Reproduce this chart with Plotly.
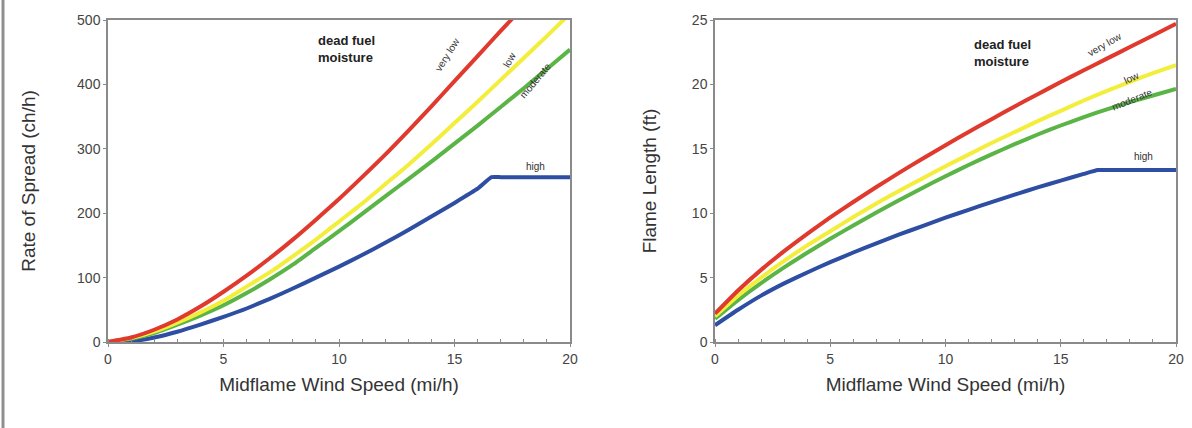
import plotly.graph_objects as go
from plotly.subplots import make_subplots

# ---- data ----
wind = list(range(0, 21))
wind_blue = [0, 1, 2, 3, 4, 5, 6, 7, 8, 9, 10, 11, 12, 13, 14, 15, 16, 16.6, 17, 18, 19, 20]

ros_very_low = [0, 7, 19, 35, 55, 78, 103, 130, 159, 190, 222, 256, 291, 328, 366, 405, 444, 483, 521, 558, 594]
ros_low = [0, 6, 16, 30, 46, 64, 86, 108, 133, 159, 187, 215, 245, 275, 307, 340, 373, 407, 441, 475, 510]
ros_moderate = [0, 5, 14, 27, 41, 57, 76, 97, 120, 146, 172, 199, 226, 253, 280, 308, 336, 365, 394, 424, 454]
ros_high = [0, 1, 7, 16, 27, 39, 52, 67, 83, 100, 117, 135, 154, 174, 195, 216, 238, 256, 256, 256, 256, 256]

fl_very_low = [2.2, 4.0, 5.6, 7.05, 8.4, 9.67, 10.87, 12.03, 13.15, 14.23, 15.28, 16.3, 17.3, 18.28, 19.24, 20.18, 21.1, 22.0, 22.9, 23.8, 24.7]
fl_low = [2.0, 3.6, 5.0, 6.3, 7.5, 8.6, 9.7, 10.75, 11.75, 12.7, 13.65, 14.55, 15.45, 16.3, 17.15, 17.95, 18.75, 19.5, 20.2, 20.87, 21.5]
fl_moderate = [1.8, 3.25, 4.57, 5.79, 6.93, 8.01, 9.05, 10.05, 11.02, 11.96, 12.87, 13.74, 14.57, 15.36, 16.11, 16.81, 17.46, 18.06, 18.62, 19.14, 19.64]
fl_high = [1.3, 2.5, 3.6, 4.55, 5.4, 6.2, 6.95, 7.65, 8.35, 9.0, 9.65, 10.26, 10.86, 11.44, 12.0, 12.53, 13.05, 13.35, 13.35, 13.35, 13.35, 13.35]

x_ticks = [0, 5, 10, 15, 20]
ros_ticks = [0, 100, 200, 300, 400, 500]
fl_ticks = [0, 5, 10, 15, 20, 25]

colors = {"very low": "#e0392d", "low": "#f3ee3c", "moderate": "#5bb446", "high": "#2d4ea2"}

# ---- figure ----
W, H = 1192, 428
ml, mr, mt, mb = 108, 16, 20, 86
pw = W - ml - mr
ph = H - mt - mb

fig = make_subplots(rows=1, cols=2, horizontal_spacing=0.0)

series_left = [("high", wind_blue, ros_high), ("moderate", wind, ros_moderate),
               ("low", wind, ros_low), ("very low", wind, ros_very_low)]
series_right = [("high", wind_blue, fl_high), ("moderate", wind, fl_moderate),
                ("low", wind, fl_low), ("very low", wind, fl_very_low)]


def line_style(name):
    if name == "high":
        return dict(color=colors[name], width=4, shape="spline", smoothing=0.35)
    return dict(color=colors[name], width=4, shape="spline", smoothing=0.5)


for name, xs, ys in series_left:
    fig.add_trace(go.Scatter(x=xs, y=ys, mode="lines", name=name, showlegend=False,
                             line=line_style(name)), row=1, col=1)
for name, xs, ys in series_right:
    fig.add_trace(go.Scatter(x=xs, y=ys, mode="lines", name=name, showlegend=False,
                             line=line_style(name)), row=1, col=2)

dl = [0, (570 - ml) / pw]
dr = [(715 - ml) / pw, 1.0]

axis_common = dict(showline=True, linecolor="#8a8a8a", linewidth=1.5, mirror=True,
                   showgrid=False, zeroline=False, automargin=False,
                   tickfont=dict(family="Arial, Liberation Sans, sans-serif", size=14, color="#444"),
                   ticks="outside", ticklen=3, tickcolor="#8a8a8a")
title_font = dict(family="Arial, Liberation Sans, sans-serif", size=19, color="#333")

fig.update_xaxes(**axis_common, range=[0, 20], tickvals=x_ticks,
                 minor=dict(dtick=1, ticks="inside", ticklen=3, tickcolor="#8a8a8a"),
                 title=dict(text="Midflame Wind Speed (mi/h)", font=title_font, standoff=12))
fig.update_xaxes(domain=dl, row=1, col=1)
fig.update_xaxes(domain=dr, row=1, col=2)
fig.update_yaxes(**axis_common)
fig.update_yaxes(range=[0, 500], tickvals=ros_ticks,
                 title=dict(text="Rate of Spread (ch/h)", font=title_font, standoff=36), row=1, col=1)
fig.update_yaxes(range=[0, 25], tickvals=fl_ticks,
                 title=dict(text="Flame Length (ft)", font=title_font, standoff=30), row=1, col=2)

lab_font = dict(family="Arial, Liberation Sans, sans-serif", size=10, color="#333")
head_font = dict(family="Arial, Liberation Sans, sans-serif", size=13, color="#222")

# header annotations
fig.add_annotation(x=9.0, y=455, xref="x", yref="y", text="<b>dead fuel<br>moisture</b>",
                   showarrow=False, xanchor="left", align="left", font=head_font)
fig.add_annotation(x=11.15, y=22.4, xref="x2", yref="y2", text="<b>dead fuel<br>moisture</b>",
                   showarrow=False, xanchor="left", align="left", font=head_font)

# curve labels left
fig.add_annotation(x=14.7, y=446, xref="x", yref="y", text="very low", showarrow=False,
                   textangle=-58, font=lab_font)
fig.add_annotation(x=17.4, y=438, xref="x", yref="y", text="low", showarrow=False,
                   textangle=-60, font=lab_font)
fig.add_annotation(x=18.5, y=406, xref="x", yref="y", text="moderate", showarrow=False,
                   textangle=-50, font=lab_font)
fig.add_annotation(x=18.5, y=273, xref="x", yref="y", text="high", showarrow=False,
                   font=lab_font)

# curve labels right
fig.add_annotation(x=16.9, y=23.1, xref="x2", yref="y2", text="very low", showarrow=False,
                   textangle=-30, font=lab_font)
fig.add_annotation(x=18.1, y=20.5, xref="x2", yref="y2", text="low", showarrow=False,
                   textangle=-25, font=lab_font)
fig.add_annotation(x=18.1, y=18.8, xref="x2", yref="y2", text="moderate", showarrow=False,
                   textangle=-22, font=lab_font)
fig.add_annotation(x=18.6, y=14.4, xref="x2", yref="y2", text="high", showarrow=False,
                   font=lab_font)

# left border line of the figure
bx = (3 - ml) / pw
fig.add_shape(type="line", xref="paper", yref="paper", x0=bx, x1=bx,
              y0=(ph + mt - H) / ph - 0.01, y1=(ph + mt) / ph + 0.01,
              line=dict(color="#8f8f8f", width=3))

fig.update_layout(width=W, height=H, margin=dict(l=ml, r=mr, t=mt, b=mb, autoexpand=False),
                  plot_bgcolor="white", paper_bgcolor="white")

fig.write_html("out.html", config={"displayModeBar": False},
               post_script="document.body.style.margin='0';document.body.style.overflow='hidden';")
